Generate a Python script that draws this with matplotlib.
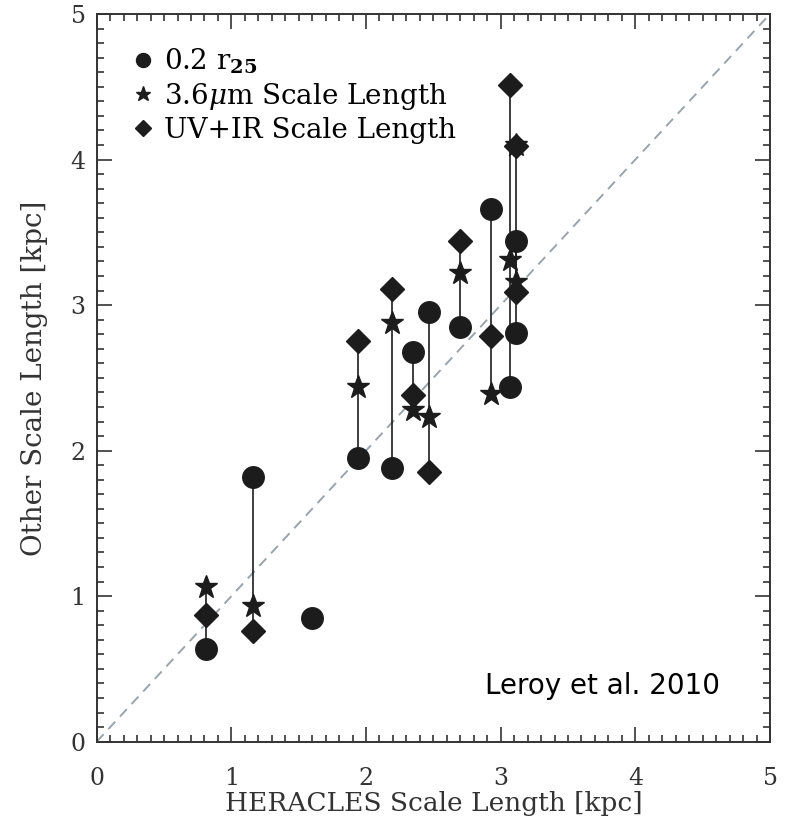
import numpy as np
import matplotlib
matplotlib.use('Agg')
import matplotlib.pyplot as plt
from matplotlib.ticker import MultipleLocator

# scale lengths in kpc, one entry per galaxy (nan = not measured)
heracles = [0.81, 1.16, 1.60, 1.94, 2.19, 2.35, 2.47, 2.70, 2.93, 3.07, 3.11, 3.11]
r25 = [0.64, 1.82, 0.85, 1.95, 1.88, 2.68, 2.95, 2.85, 3.66, 2.44, 2.81, 3.44]
irac = [1.06, 0.93, np.nan, 2.44, 2.88, 2.28, 2.23, 3.22, 2.39, 3.31, 4.10, 3.16]
uvir = [0.87, 0.76, np.nan, 2.75, 3.11, 2.38, 1.85, 3.44, 2.79, 4.51, 4.09, 3.09]

labels = [r'0.2 r$_{\mathbf{25}}$', r'3.6$\mu$m Scale Length', 'UV+IR Scale Length']
xlabel = 'HERACLES Scale Length [kpc]'
ylabel = 'Other Scale Length [kpc]'
note = 'Leroy et al. 2010'

plt.rcParams.update({
    'font.family': 'DejaVu Serif',
    'mathtext.fontset': 'dejavuserif',
})

INK = '#1c1c1c'
AXC = '#333333'

fig = plt.figure(figsize=(7.87, 8.24), dpi=100)
ax = fig.add_axes([0.1229, 0.0999, 0.8555, 0.8831])

# one-to-one line
ax.plot([0, 5], [0, 5], color='#9aa4aa', lw=1.4, dashes=(5.2, 3.6), zorder=1)

# connect the measurements of each galaxy
vals = np.array([r25, irac, uvir])
lo = np.nanmin(vals, axis=0)
hi = np.nanmax(vals, axis=0)
ax.vlines(heracles, lo, hi, color=INK, lw=1.2, zorder=2)

ax.plot(heracles, r25, 'o', ms=15.5, color=INK, mec=INK, ls='none', zorder=3, label=labels[0])
ax.plot(heracles, irac, '*', ms=17, color=INK, mec=INK, ls='none', zorder=5, label=labels[1])
ax.plot(heracles, uvir, 'D', ms=12, color=INK, mec=INK, ls='none', zorder=4, label=labels[2])

leg = ax.legend(loc='upper left', bbox_to_anchor=(0.054, 0.955), frameon=False,
                markerscale=0.65, handlelength=0.7, handletextpad=0.4,
                labelspacing=0.17, borderaxespad=0, borderpad=0, fontsize=20)
for t in leg.get_texts():
    t.set_color('black')

ax.text(4.63, 0.38, note, family='DejaVu Sans', fontsize=20, color='black',
        ha='right', va='center')

ax.set_xlim(0, 5)
ax.set_ylim(0, 5)
ax.xaxis.set_major_locator(MultipleLocator(1))
ax.yaxis.set_major_locator(MultipleLocator(1))
ax.xaxis.set_minor_locator(MultipleLocator(0.1))
ax.yaxis.set_minor_locator(MultipleLocator(0.1))
ax.tick_params(which='both', direction='in', top=True, right=True,
               color=AXC, width=1.2, labelcolor=AXC, labelsize=17)
ax.tick_params(which='major', length=10.5)
ax.tick_params(which='minor', length=5)
ax.tick_params(axis='x', pad=18)
ax.tick_params(axis='y', pad=8)
for s in ax.spines.values():
    s.set_color(AXC)
    s.set_linewidth(1.4)

ax.set_xlabel(xlabel, fontsize=19, color=AXC, labelpad=1)
ax.set_ylabel(ylabel, fontsize=20, color=AXC, labelpad=16)

fig.savefig('out.png', dpi=100)
